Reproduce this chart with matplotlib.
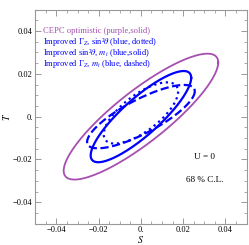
import numpy as np
import matplotlib.pyplot as plt
from matplotlib.ticker import MultipleLocator, FixedFormatter, FixedLocator

plt.rcParams['font.family'] = ['Liberation Serif', 'DejaVu Serif']
plt.rcParams['mathtext.fontset'] = 'stix'

# ellipse parameters: sigma_S, sigma_T, correlation, center (S, T)
names = ['CEPC optimistic', 'Gz_sin2', 'sin2_mt', 'Gz_mt']
sig_S = [0.0366, 0.0176, 0.0238, 0.0255]
sig_T = [0.0294, 0.0143, 0.0213, 0.0148]
rho = [0.86, 0.70, 0.85, 0.80]
cen_S = [0.0, 0.0, 0.0, 0.0]
cen_T = [0.0, 0.0017, 0.0, 0.0]
colors = ['#a64fb0', 'blue', 'blue', 'blue']
styles = ['-', ':', '-', '--']
widths = [1.3, 1.6, 1.6, 1.6]

labels = ['CEPC optimistic (purple,solid)',
          'Improved \u0393$_Z$, sin\u00b2$\\theta$ (blue, dotted)',
          'Improved sin\u00b2$\\theta$, $m_t$ (blue,solid)',
          'Improved \u0393$_Z$, $m_t$ (blue, dashed)']

ticks = [-0.04, -0.02, 0.0, 0.02, 0.04]
tick_labels = ['\u22120.04', '\u22120.02', '0.', '0.02', '0.04']

fig = plt.figure(figsize=(2.49, 2.45), dpi=100)
ax = fig.add_axes([0.142, 0.087, 0.848, 0.874])

t = np.linspace(0, 2 * np.pi, 400)
for i in range(len(names)):
    d = np.arccos(rho[i])
    x = cen_S[i] + sig_S[i] * np.cos(t)
    y = cen_T[i] + sig_T[i] * np.cos(t + d)
    ax.plot(x, y, color=colors[i], ls=styles[i], lw=widths[i])

ax.set_xlim(-0.05, 0.05)
ax.set_ylim(-0.05, 0.05)
for a in (ax.xaxis, ax.yaxis):
    a.set_major_locator(FixedLocator(ticks))
    a.set_major_formatter(FixedFormatter(tick_labels))
    a.set_minor_locator(MultipleLocator(0.005))
ax.tick_params(which='both', direction='in', top=True, right=True,
               labelsize=6, color='#888888', pad=2)
ax.tick_params(which='major', length=4, width=0.6)
ax.tick_params(which='minor', length=2, width=0.5)
for s in ax.spines.values():
    s.set_color('#999999')
    s.set_linewidth(0.8)

ax.set_xlabel('$S$', fontsize=7)
ax.set_ylabel('$T$', fontsize=7)
ax.xaxis.set_label_coords(0.5, -0.075)
ax.xaxis.label.set_va('center')
ax.yaxis.set_label_coords(-0.135, 0.5)
ax.yaxis.label.set_va('center')

ys = [0.0402, 0.0348, 0.0297, 0.0247]
for i in range(4):
    ax.text(-0.0465, ys[i], labels[i], color=colors[i], fontsize=6.1, va='center')

ax.text(0.0303, -0.019, 'U = 0', fontsize=6.6, ha='center', va='center')
ax.text(0.030, -0.0296, '68 % C.L.', fontsize=6.6, ha='center', va='center')

fig.savefig('out.png', dpi=100)
